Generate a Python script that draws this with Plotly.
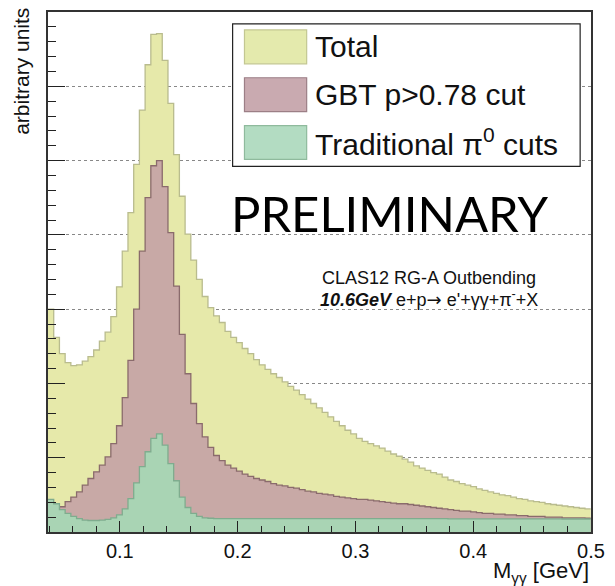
import plotly.graph_objects as go

# Histogram binning (GeV)
BIN_START = 0.039
BIN_WIDTH = 0.00485

total = [3.00, 2.62, 2.40, 2.28, 2.24, 2.25, 2.30, 2.36, 2.45, 2.57,
         2.69, 2.90, 3.30, 3.78, 4.30, 4.95, 5.68, 6.29, 6.70, 6.71,
         6.35, 5.77, 5.08, 4.52, 4.01, 3.66, 3.40, 3.17, 3.02, 2.91,
         2.82, 2.70, 2.62, 2.55, 2.47, 2.40, 2.32, 2.25, 2.19, 2.13,
         2.08, 2.02, 1.96, 1.91, 1.85, 1.79, 1.73, 1.67, 1.61, 1.55,
         1.49, 1.43, 1.37, 1.32, 1.26, 1.22, 1.19, 1.16, 1.13, 1.09,
         1.05, 1.02, 0.98, 0.94, 0.89, 0.86, 0.83, 0.80, 0.78, 0.74,
         0.70, 0.68, 0.65, 0.63, 0.61, 0.58, 0.56, 0.54, 0.52, 0.50,
         0.49, 0.47, 0.45, 0.44, 0.42, 0.41, 0.40, 0.38, 0.37, 0.36,
         0.35, 0.34, 0.33, 0.32, 0.31]

gbt = [0.15, 0.24, 0.34, 0.41, 0.47, 0.54, 0.63, 0.72, 0.81, 0.90,
       1.01, 1.19, 1.43, 1.81, 2.31, 3.00, 3.78, 4.50, 4.93, 5.00,
       4.65, 4.03, 3.31, 2.66, 2.13, 1.73, 1.46, 1.28, 1.14, 1.03,
       0.96, 0.90, 0.86, 0.82, 0.78, 0.75, 0.72, 0.70, 0.68, 0.65,
       0.63, 0.62, 0.60, 0.59, 0.57, 0.55, 0.54, 0.52, 0.51, 0.50,
       0.48, 0.47, 0.46, 0.45, 0.44, 0.44, 0.43, 0.42, 0.41, 0.40,
       0.39, 0.38, 0.38, 0.37, 0.36, 0.35, 0.34, 0.33, 0.32, 0.31,
       0.30, 0.29, 0.28, 0.28, 0.27, 0.26, 0.25, 0.25, 0.24, 0.24,
       0.23, 0.23, 0.22, 0.22, 0.21, 0.21, 0.21, 0.20, 0.20, 0.20,
       0.19, 0.19, 0.19, 0.19, 0.185]

traditional = [0.44, 0.38, 0.30, 0.25, 0.21, 0.18, 0.16, 0.155, 0.155, 0.16,
               0.17, 0.19, 0.23, 0.31, 0.45, 0.66, 0.88, 1.08, 1.26, 1.32,
               1.17, 0.92, 0.69, 0.47, 0.33, 0.25, 0.21, 0.19, 0.185, 0.18,
               0.18, 0.18, 0.18, 0.18, 0.18, 0.18, 0.18, 0.18, 0.18, 0.18,
               0.18, 0.18, 0.18, 0.18, 0.18, 0.18, 0.18, 0.18, 0.18, 0.18,
               0.18, 0.18, 0.18, 0.18, 0.18, 0.18, 0.18, 0.18, 0.18, 0.18,
               0.18, 0.18, 0.18, 0.18, 0.18, 0.18, 0.18, 0.18, 0.18, 0.18,
               0.178, 0.178, 0.178, 0.178, 0.178, 0.178, 0.178, 0.178, 0.178, 0.178,
               0.176, 0.176, 0.176, 0.176, 0.176, 0.176, 0.176, 0.176, 0.176, 0.176,
               0.175, 0.175, 0.175, 0.175, 0.175]

series_names = ["Total", "GBT p>0.78 cut", "Traditional π<sup>0</sup> cuts"]
x_ticks = [0.1, 0.2, 0.3, 0.4, 0.5]
x_tick_labels = ["0.1", "0.2", "0.3", "0.4", "0.5"]

fills = ["#e6e9aa", "#c8a9a6", "#a9d4b4"]
lines = ["#b9bc8e", "#8a6b6c", "#7fac8e"]
swatch_fill = ["#e4eaad", "#c9aab0", "#b3dcc2"]
swatch_line = ["#c3c792", "#9c7f86", "#8fba9d"]

n_bins = len(total)
edges = [BIN_START + i * BIN_WIDTH for i in range(n_bins + 1)]

fig = go.Figure()
for vals, fc, lc, nm in zip([total, gbt, traditional], fills, lines, series_names):
    fig.add_trace(go.Scatter(
        x=edges, y=list(vals) + [vals[-1]],
        mode="lines", line=dict(shape="hv", color=lc, width=1.3),
        fill="tozeroy", fillcolor=fc, name=nm, showlegend=False,
        hoverinfo="skip"))

FONT = "Liberation Sans, Arial, sans-serif"

# manual legend (paper coordinates derived from plot area 48..598 x 10..532 px)
L, R, T, B = 48, 598, 10, 532
def px(xp):
    return (xp - L) / (R - L)
def py(yp):
    return (B - yp) / (B - T)

shapes = [dict(type="rect", xref="paper", yref="paper",
               x0=px(235), x1=px(587), y0=py(165), y1=py(22),
               fillcolor="white", line=dict(color="#222", width=1.2), layer="above")]
annotations = []
rows = [(28, 62), (76, 110), (124, 158)]
for (y0, y1), sf, sl, nm in zip(rows, swatch_fill, swatch_line, series_names):
    shapes.append(dict(type="rect", xref="paper", yref="paper",
                       x0=px(247), x1=px(310), y0=py(y1), y1=py(y0),
                       fillcolor=sf, line=dict(color=sl, width=1.2), layer="above"))
    annotations.append(dict(xref="paper", yref="paper", x=px(316), y=py((y0 + y1) / 2),
                            text=nm, showarrow=False, xanchor="left", yanchor="middle",
                            font=dict(family=FONT, size=30, color="#111")))

annotations += [
    dict(xref="paper", yref="paper", x=px(394), y=py(212), text="PRELIMINARY",
         showarrow=False, xanchor="center", yanchor="middle",
         font=dict(family="Lato, Noto Sans, sans-serif", size=49, color="#000")),
    dict(xref="paper", yref="paper", x=px(323), y=py(277), text="CLAS12 RG-A Outbending",
         showarrow=False, xanchor="left", yanchor="middle",
         font=dict(family=FONT, size=18, color="#111")),
    dict(xref="paper", yref="paper", x=px(321), y=py(298),
         text="<b><i>10.6GeV</i></b> e+p<span style='font-family:DejaVu Sans'>→</span> e'+γγ+π<sup>-</sup>+X",
         showarrow=False, xanchor="left", yanchor="middle",
         font=dict(family=FONT, size=18, color="#111")),
    dict(xref="paper", yref="paper", x=px(21), y=py(4), text="arbitrary units",
         textangle=-90, showarrow=False, xanchor="center", yanchor="top",
         font=dict(family=FONT, size=21, color="#111")),
    dict(xref="paper", yref="paper", x=1.0, y=py(572), text="M<sub>γγ</sub> [GeV]",
         showarrow=False, xanchor="right", yanchor="middle",
         font=dict(family=FONT, size=22, color="#111")),
]

fig.update_layout(
    width=615, height=586,
    margin=dict(l=L, r=615 - R, t=T, b=586 - B),
    paper_bgcolor="white", plot_bgcolor="white",
    shapes=shapes, annotations=annotations, showlegend=False,
    xaxis=dict(range=[0.039, 0.5], tickmode="array", tickvals=x_ticks, ticktext=x_tick_labels,
               ticks="inside", ticklen=11, tickwidth=1.3, tickcolor="#222",
               minor=dict(ticks="inside", ticklen=6, dtick=0.02, tick0=0, tickcolor="#222", tickwidth=1.1),
               showgrid=False, zeroline=False, showline=True, mirror=True,
               linecolor="#333", linewidth=1.5, layer="above traces",
               tickfont=dict(family=FONT, size=20, color="#111")),
    yaxis=dict(range=[0, 7], dtick=1, tick0=0, ticks="inside", ticklen=17, tickwidth=1.3,
               tickcolor="#222", showticklabels=False,
               minor=dict(ticks="inside", ticklen=8, dtick=0.2, tick0=0, tickcolor="#222", tickwidth=1.1),
               showgrid=True, gridcolor="#888", gridwidth=1, griddash="dot",
               zeroline=False, showline=True, mirror=True,
               linecolor="#333", linewidth=1.5, layer="above traces"),
)

fig.write_html("out.html")
